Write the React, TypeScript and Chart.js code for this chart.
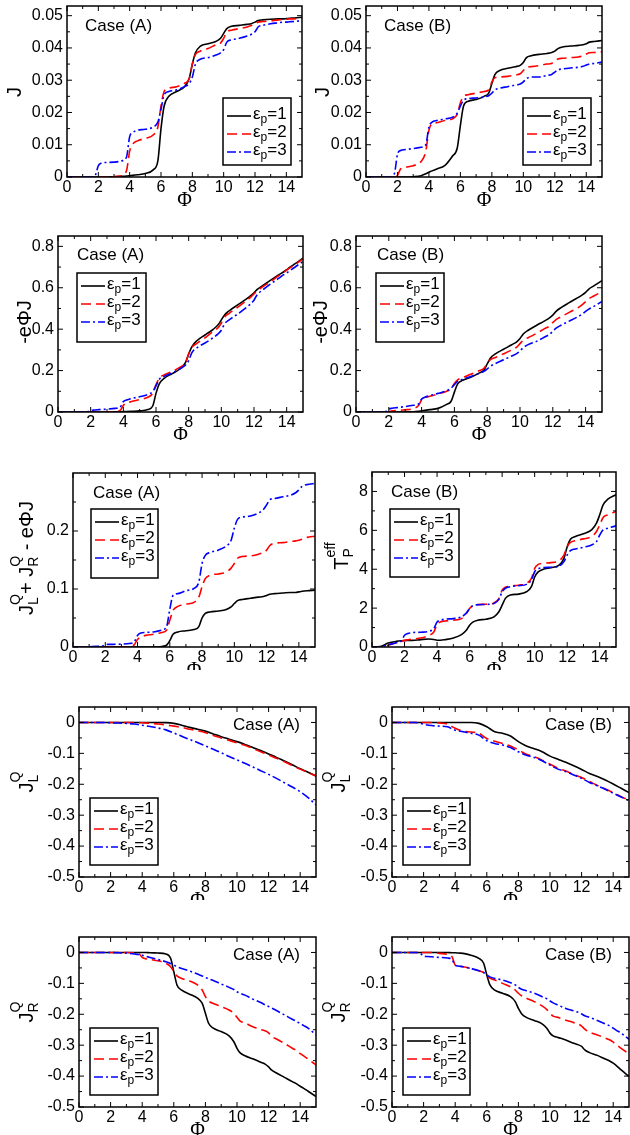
import React, { useEffect, useRef } from 'react';
import { Chart, registerables } from 'chart.js';
Chart.register(...registerables);

const SANS = '"Liberation Sans", Arial, Helvetica, sans-serif';
const SERIF = '"Liberation Serif", "Times New Roman", serif';

// ---------------- data ----------------
const phiFine = [0, 0.5, 1, 1.5, 1.8, 2, 2.2, 2.5, 3, 3.5, 3.8, 4, 4.2, 4.5, 5, 5.5, 5.8, 6, 6.2, 6.5, 7, 7.5, 7.8, 8, 8.2, 8.5, 9, 9.5, 9.8, 10, 10.2, 10.5, 11, 11.5, 11.8, 12, 12.2, 12.5, 13, 13.5, 13.8, 14, 14.2, 14.5, 15];
const phiHalf = [0, 0.5, 1, 1.5, 2, 2.5, 3, 3.5, 4, 4.5, 5, 5.5, 6, 6.5, 7, 7.5, 8, 8.5, 9, 9.5, 10, 10.5, 11, 11.5, 12, 12.5, 13, 13.5, 14, 14.5, 15];

const xTicks = [0, 2, 4, 6, 8, 10, 12, 14];
const xMinorTicks = [1, 3, 5, 7, 9, 11, 13];
const yTicksJ = [0, 0.01, 0.02, 0.03, 0.04, 0.05];
const yMinorJ = [0.005, 0.015, 0.025, 0.035, 0.045];
const yTicksPower = [0, 0.2, 0.4, 0.6, 0.8];
const yMinorPower = [0.1, 0.3, 0.5, 0.7];
const yTicksSum = [0, 0.1, 0.2];
const yMinorSum = [0.05, 0.15, 0.25];
const yTicksTeff = [0, 2, 4, 6, 8];
const yMinorTeff = [1, 3, 5, 7];
const yTicksHeat = [0, -0.1, -0.2, -0.3, -0.4, -0.5];
const yMinorHeat = [-0.05, -0.15, -0.25, -0.35, -0.45];
const legendValues = ['1', '2', '3'];

// J, case A
const jA_e1 = [0,0,0,0, 0,0,0,0, 0.0001,0.0002,0.0003,0.0004, 0.0005,0.0007,0.0011,0.0022, 0.005,0.015,0.022,0.025, 0.0265,0.028,0.0305,0.035, 0.0385,0.0405,0.0413,0.042, 0.043,0.0445,0.046,0.0467, 0.047,0.0473,0.0476,0.048, 0.0485,0.0487,0.0489,0.049, 0.049,0.0491,0.0492,0.0493, 0.0495];
const jA_e2 = [0,0,0,0, 0,0,0,0, 0.0001,0.0004,0.002,0.008, 0.0102,0.0112,0.012,0.013, 0.0155,0.022,0.0265,0.0275, 0.028,0.029,0.0305,0.035, 0.038,0.039,0.0398,0.041, 0.0415,0.043,0.045,0.0455, 0.046,0.0465,0.047,0.0475, 0.048,0.0482,0.0484,0.0487, 0.0488,0.0489,0.049,0.049, 0.0493];
const jA_e3 = [0,0,0,0, 0.0005,0.0035,0.0043,0.0045, 0.0046,0.005,0.0062,0.0125, 0.0138,0.0145,0.0148,0.0155, 0.017,0.021,0.0255,0.0265, 0.027,0.028,0.029,0.031, 0.035,0.0365,0.037,0.0378, 0.0385,0.0395,0.0418,0.0425, 0.043,0.0437,0.0443,0.045, 0.0465,0.047,0.0475,0.0478, 0.048,0.048,0.0481,0.0482, 0.0485];
// J, case B
const jB_e1 = [0,0,0,0, 0,0,0,0, 0.0001,0.0004,0.001,0.0015, 0.0019,0.0025,0.0035,0.0065, 0.009,0.016,0.022,0.0235, 0.024,0.025,0.026,0.029, 0.0318,0.033,0.0337,0.0342, 0.0346,0.0355,0.037,0.0376, 0.038,0.0383,0.0386,0.039, 0.0398,0.0403,0.0406,0.0408, 0.041,0.0413,0.0418,0.042, 0.0423];
const jB_e2 = [0,0,0,0, 0,0.0005,0.0025,0.003, 0.0035,0.0048,0.008,0.0145, 0.0165,0.0168,0.0175,0.018, 0.0195,0.023,0.025,0.0255, 0.026,0.0265,0.027,0.0295, 0.0308,0.031,0.0312,0.0316, 0.032,0.033,0.034,0.0342, 0.0345,0.035,0.0352,0.036, 0.0366,0.0368,0.037,0.0372, 0.0376,0.0381,0.0385,0.0386, 0.0388];
const jB_e3 = [0,0,0,0, 0.001,0.007,0.0082,0.0085, 0.0088,0.0092,0.01,0.0155, 0.017,0.0175,0.018,0.0185, 0.0198,0.022,0.0238,0.0243, 0.0245,0.0248,0.0252,0.026, 0.027,0.0275,0.028,0.0285, 0.0288,0.0295,0.0305,0.031, 0.031,0.0315,0.0318,0.0325, 0.0332,0.0335,0.0338,0.034, 0.0343,0.0347,0.035,0.0352, 0.0356];
// -ePhiJ, case A
const pA_e1 = [0,0,0,0, 0,0,0,0, 0.0003,0.0007,0.0011,0.0016, 0.0021,0.0032,0.0055,0.0121, 0.029,0.09,0.136,0.1625, 0.1855,0.21,0.238,0.28, 0.316,0.344,0.372,0.399, 0.421,0.445,0.469,0.49, 0.517,0.544,0.562,0.576, 0.592,0.609,0.636,0.662, 0.676,0.687,0.699,0.715, 0.743];
const pA_e2 = [0,0,0,0, 0,0,0,0, 0.0003,0.0014,0.0076,0.032, 0.0428,0.0504,0.06,0.0715, 0.09,0.132,0.164,0.179, 0.196,0.2175,0.238,0.28, 0.312,0.3315,0.358,0.39, 0.407,0.43,0.459,0.478, 0.506,0.535,0.555,0.57, 0.586,0.603,0.629,0.657, 0.673,0.685,0.696,0.711, 0.74];
const pA_e3 = [0,0,0,0, 0.0009,0.007,0.0095,0.0113, 0.0138,0.0175,0.0236,0.05, 0.058,0.065,0.074,0.085, 0.099,0.126,0.158,0.172, 0.189,0.21,0.226,0.248, 0.287,0.31,0.333,0.359, 0.377,0.395,0.426,0.446, 0.473,0.503,0.523,0.54, 0.567,0.5875,0.6175,0.645, 0.662,0.672,0.683,0.699, 0.7275];
// -ePhiJ, case B
const pB_e1 = [0,0,0,0, 0,0,0,0, 0.0003,0.0014,0.0038,0.006, 0.008,0.0113,0.0175,0.0358, 0.052,0.096,0.136,0.153, 0.168,0.1875,0.203,0.232, 0.261,0.2805,0.303,0.325, 0.339,0.355,0.377,0.395, 0.418,0.44,0.455,0.468, 0.486,0.504,0.528,0.551, 0.566,0.578,0.594,0.609, 0.6345];
const pB_e2 = [0,0,0,0, 0,0.001,0.0055,0.0075, 0.0105,0.0168,0.0304,0.058, 0.0693,0.0756,0.0875,0.099, 0.113,0.138,0.155,0.166, 0.182,0.199,0.211,0.236, 0.2526,0.2635,0.281,0.3, 0.3136,0.33,0.347,0.359, 0.3795,0.4025,0.415,0.432, 0.4465,0.46,0.481,0.502, 0.519,0.533,0.547,0.56, 0.582];
const pB_e3 = [0,0,0,0, 0.0018,0.014,0.018,0.0213, 0.0264,0.0322,0.038,0.062, 0.0714,0.0788,0.09,0.1018, 0.115,0.132,0.1476,0.158, 0.1715,0.186,0.1966,0.208, 0.2214,0.2338,0.252,0.2708, 0.2822,0.295,0.311,0.3255, 0.341,0.362,0.375,0.39, 0.405,0.419,0.439,0.459, 0.473,0.486,0.497,0.51, 0.534];
// JQL + JQR - ePhiJ, case A
const sA_e1 = [0,0,0,0, 0,0,0,0, 0,0,0,0, 0,0,0,0.001, 0.003,0.011,0.022,0.026, 0.028,0.03,0.035,0.05, 0.058,0.0605,0.062,0.0645, 0.069,0.075,0.08,0.082, 0.084,0.086,0.087,0.089, 0.091,0.092,0.093,0.094, 0.094,0.095,0.096,0.097, 0.098];
const sA_e2 = [0,0,0,0, 0,0,0,0, 0,0.001,0.004,0.013, 0.017,0.02,0.022,0.025, 0.029,0.046,0.063,0.07, 0.074,0.077,0.086,0.104, 0.118,0.124,0.126,0.129, 0.136,0.144,0.153,0.156, 0.157,0.16,0.163,0.167, 0.175,0.179,0.18,0.182, 0.183,0.184,0.186,0.189, 0.191];
const sA_e3 = [0,0,0.0005,0.001, 0.0015,0.004,0.0045,0.0046, 0.005,0.006,0.009,0.02, 0.024,0.025,0.026,0.029, 0.035,0.065,0.089,0.092, 0.097,0.101,0.112,0.144, 0.158,0.163,0.167,0.174, 0.184,0.205,0.22,0.224, 0.226,0.231,0.237,0.245, 0.254,0.256,0.259,0.262, 0.266,0.271,0.277,0.28, 0.282];
// T_P^eff, case B
const tB_e1 = [0,0.02,0.2,0.29, 0.32,0.33,0.335,0.34, 0.38,0.41,0.39,0.35, 0.35,0.38,0.46,0.64, 0.86,1.12,1.28,1.38, 1.43,1.55,1.81,2.15, 2.5,2.67,2.72,2.84, 3.1,3.6,3.85,3.99, 4.08,4.21,4.56,5.16, 5.54,5.68,5.82,6.02, 6.37,6.8,7.3,7.6, 7.83];
const tB_e2 = [0,0,0.09,0.22, 0.3,0.34,0.37,0.41, 0.46,0.6,0.77,1.17, 1.29,1.34,1.38,1.46, 1.72,1.98,2.12,2.18, 2.2,2.27,2.49,2.92, 3.07,3.13,3.18,3.27, 3.53,4.04,4.24,4.3, 4.34,4.44,4.73,5.16, 5.38,5.47,5.56,5.68, 5.94,6.28,6.65,6.8, 6.97];
const tB_e3 = [0,0,0.12,0.22, 0.31,0.6,0.69,0.74, 0.76,0.81,0.95,1.29, 1.38,1.43,1.46,1.55, 1.75,1.98,2.12,2.17, 2.19,2.24,2.45,2.84, 3.02,3.1,3.15,3.22, 3.45,3.87,4.01,4.08, 4.1,4.16,4.39,4.73, 4.96,5.04,5.13,5.25, 5.42,5.76,6.02,6.11, 6.23];
// JQ_L (half grid)
const lA_e1 = [0,0,0,0,0,0,0,0,0,0,0, -0.0005,-0.003,-0.009,-0.016,-0.022,-0.028,-0.037,-0.046,-0.054,-0.062,-0.071,-0.081,-0.091,-0.102,-0.113,-0.125,-0.137,-0.15,-0.161,-0.173];
const lA_e2 = [0,0,0,0,0,0,0,0, -0.001,-0.003,-0.005,-0.008,-0.012,-0.016,-0.022,-0.027,-0.033,-0.042,-0.05,-0.058,-0.066,-0.074,-0.084,-0.095,-0.105,-0.116,-0.127,-0.139,-0.151,-0.162,-0.173];
const lA_e3 = [0,0,0,0, -0.001,-0.002,-0.003,-0.005,-0.009,-0.013,-0.018,-0.024,-0.034,-0.045,-0.055,-0.065,-0.076,-0.087,-0.098,-0.11,-0.121,-0.132,-0.144,-0.156,-0.168,-0.181,-0.195,-0.209,-0.224,-0.243,-0.267];
const lB_e1 = [0,0,0,0,0,0,0,0,0,0,0, -0.003,-0.014,-0.03,-0.035,-0.044,-0.062,-0.076,-0.085,-0.095,-0.109,-0.119,-0.129,-0.14,-0.152,-0.165,-0.175,-0.186,-0.199,-0.213,-0.227];
const lB_e2 = [0,0,0,0,0,0, -0.002,-0.005,-0.019,-0.028,-0.031,-0.035,-0.052,-0.061,-0.068,-0.076,-0.089,-0.103,-0.111,-0.122,-0.135,-0.148,-0.157,-0.168,-0.178,-0.191,-0.204,-0.215,-0.227,-0.24,-0.251];
const lB_e3 = [0,0,0,0, -0.006,-0.01,-0.012,-0.014,-0.025,-0.03,-0.035,-0.041,-0.059,-0.068,-0.073,-0.081,-0.095,-0.106,-0.113,-0.124,-0.138,-0.151,-0.159,-0.17,-0.181,-0.194,-0.205,-0.216,-0.229,-0.241,-0.253];
// JQ_R (fine grid)
const rA_e1 = [0,0,0,0, 0,0,0,0, 0,0,0,0, 0,-0.001,-0.002,-0.005, -0.019,-0.062,-0.105,-0.122, -0.135,-0.148,-0.165,-0.197, -0.229,-0.245,-0.256,-0.27, -0.289,-0.31,-0.325,-0.334, -0.344,-0.355,-0.362,-0.37, -0.381,-0.39,-0.404,-0.418, -0.426,-0.433,-0.439,-0.449, -0.466];
const rA_e2 = [0,0,0,0, 0,0,0,0, 0,-0.001,-0.004,-0.016, -0.02,-0.023,-0.027,-0.035, -0.046,-0.062,-0.076,-0.084, -0.092,-0.105,-0.122,-0.143, -0.157,-0.165,-0.175,-0.186, -0.197,-0.21,-0.222,-0.228, -0.24,-0.249,-0.254,-0.26, -0.272,-0.28,-0.294,-0.31, -0.318,-0.327,-0.334,-0.345, -0.364];
const rA_e3 = [0,0,0,0, 0,0,-0.0005,-0.001, -0.002,-0.005,-0.007,-0.009, -0.012,-0.016,-0.023,-0.03, -0.036,-0.041,-0.046,-0.052, -0.06,-0.07,-0.076,-0.081, -0.085,-0.091,-0.102,-0.113, -0.12,-0.127,-0.132,-0.138, -0.151,-0.162,-0.17,-0.175, -0.18,-0.188,-0.202,-0.216, -0.224,-0.23,-0.236,-0.245, -0.267];
const rB_e1 = [0,0,0,0, 0,0,0,0, 0,0,-0.001,-0.001, -0.002,-0.003,-0.009,-0.019, -0.035,-0.073,-0.105,-0.122, -0.132,-0.143,-0.159,-0.181, -0.198,-0.21,-0.22,-0.231, -0.245,-0.261,-0.27,-0.275, -0.283,-0.294,-0.299,-0.304, -0.315,-0.324,-0.333,-0.345, -0.352,-0.358,-0.366,-0.38, -0.401];
const rB_e2 = [0,0,0,0, 0,0,0,0, -0.003,-0.006,-0.014,-0.041, -0.044,-0.046,-0.052,-0.059, -0.065,-0.073,-0.083,-0.089, -0.1,-0.111,-0.122,-0.132, -0.14,-0.148,-0.159,-0.173, -0.185,-0.197,-0.206,-0.21, -0.219,-0.227,-0.232,-0.238, -0.248,-0.258,-0.267,-0.277, -0.283,-0.29,-0.298,-0.31, -0.328];
const rB_e3 = [0,0,0,0, -0.003,-0.012,-0.013,-0.014, -0.016,-0.018,-0.023,-0.041, -0.044,-0.046,-0.052,-0.059, -0.065,-0.073,-0.079,-0.084, -0.089,-0.098,-0.105,-0.113, -0.119,-0.124,-0.132,-0.143, -0.15,-0.157,-0.163,-0.17, -0.181,-0.189,-0.194,-0.199, -0.205,-0.21,-0.22,-0.231, -0.238,-0.245,-0.252,-0.261, -0.281];

// ---------------- styles / layout ----------------
const COLORS = ['#000000', '#ff0000', '#0000ff'];
const DASHES: number[][] = [[], [10, 5], [9, 3, 2, 3]];

type Seg = { t: string; sup?: string; sub?: string };
type PanelDef = {
  key: string;
  cell: number[];
  area: number[];
  x: number[];
  series: number[][];
  yMin: number;
  yMax: number;
  yTicks: number[];
  yMinor: number[];
  title: Seg[];
  titleAt: number[];
  caseText: string;
  caseAlign: 'left' | 'right';
  caseAt: number[];
  legend: number[];
  legendRow: number;
};

const TITLE_J: Seg[] = [{ t: 'J' }];
const TITLE_P: Seg[] = [{ t: '-eΦJ' }];
const TITLE_S: Seg[] = [{ t: 'J', sup: 'Q', sub: 'L' }, { t: '+ ' }, { t: 'J', sup: 'Q', sub: 'R' }, { t: ' - eΦJ' }];
const TITLE_T: Seg[] = [{ t: 'T', sup: 'eff', sub: 'P' }];
const TITLE_L: Seg[] = [{ t: 'J', sup: 'Q', sub: 'L' }];
const TITLE_R: Seg[] = [{ t: 'J', sup: 'Q', sub: 'R' }];

const CA = [0, 320];
const CB = [312, 318];
const ROWS = [[0, 215], [215, 225], [440, 230], [670, 230], [900, 235]];
const cell = (c: number[], r: number) => [c[0], ROWS[r][0], c[1], ROWS[r][1]];

const PANELS: PanelDef[] = [
  { key: 'a1', cell: cell(CA, 0), area: [67, 6, 302, 177], x: phiFine, series: [jA_e1, jA_e2, jA_e3], yMin: 0, yMax: 0.053, yTicks: yTicksJ, yMinor: yMinorJ, title: TITLE_J, titleAt: [21, 92], caseText: 'Case (A)', caseAlign: 'left', caseAt: [85, 26], legend: [223, 98, 291, 165], legendRow: 18 },
  { key: 'b1', cell: cell(CB, 0), area: [366, 6, 602, 177], x: phiFine, series: [jB_e1, jB_e2, jB_e3], yMin: 0, yMax: 0.053, yTicks: yTicksJ, yMinor: yMinorJ, title: TITLE_J, titleAt: [329, 92], caseText: 'Case (B)', caseAlign: 'left', caseAt: [384, 26], legend: [523, 98, 591, 165], legendRow: 18 },
  { key: 'a2', cell: cell(CA, 1), area: [58, 236, 303, 412], x: phiFine, series: [pA_e1, pA_e2, pA_e3], yMin: 0, yMax: 0.85, yTicks: yTicksPower, yMinor: yMinorPower, title: TITLE_P, titleAt: [31, 322], caseText: 'Case (A)', caseAlign: 'left', caseAt: [77, 255], legend: [77, 273, 146, 342], legendRow: 13 },
  { key: 'b2', cell: cell(CB, 1), area: [356, 236, 602, 412], x: phiFine, series: [pB_e1, pB_e2, pB_e3], yMin: 0, yMax: 0.85, yTicks: yTicksPower, yMinor: yMinorPower, title: TITLE_P, titleAt: [327, 322], caseText: 'Case (B)', caseAlign: 'left', caseAt: [377, 255], legend: [376, 273, 444, 342], legendRow: 13 },
  { key: 'a3', cell: cell(CA, 2), area: [73, 473, 315, 647], x: phiFine, series: [sA_e1, sA_e2, sA_e3], yMin: 0, yMax: 0.3, yTicks: yTicksSum, yMinor: yMinorSum, title: TITLE_S, titleAt: [33, 558], caseText: 'Case (A)', caseAlign: 'left', caseAt: [93, 493], legend: [91, 509, 158, 578], legendRow: 13 },
  { key: 'b3', cell: cell(CB, 2), area: [372, 472, 616, 647], x: phiFine, series: [tB_e1, tB_e2, tB_e3], yMin: 0, yMax: 9, yTicks: yTicksTeff, yMinor: yMinorTeff, title: TITLE_T, titleAt: [348, 556], caseText: 'Case (B)', caseAlign: 'left', caseAt: [391, 492], legend: [390, 509, 459, 577], legendRow: 13 },
  { key: 'a4', cell: cell(CA, 3), area: [79, 707, 316, 877], x: phiHalf, series: [lA_e1, lA_e2, lA_e3], yMin: -0.5, yMax: 0.05, yTicks: yTicksHeat, yMinor: yMinorHeat, title: TITLE_L, titleAt: [33, 782], caseText: 'Case (A)', caseAlign: 'right', caseAt: [300, 725], legend: [90, 798, 158, 865], legendRow: 13 },
  { key: 'b4', cell: cell(CB, 3), area: [392, 707, 629, 877], x: phiHalf, series: [lB_e1, lB_e2, lB_e3], yMin: -0.5, yMax: 0.05, yTicks: yTicksHeat, yMinor: yMinorHeat, title: TITLE_L, titleAt: [345, 782], caseText: 'Case (B)', caseAlign: 'right', caseAt: [612, 725], legend: [403, 798, 470, 865], legendRow: 13 },
  { key: 'a5', cell: cell(CA, 4), area: [79, 937, 316, 1107], x: phiFine, series: [rA_e1, rA_e2, rA_e3], yMin: -0.5, yMax: 0.05, yTicks: yTicksHeat, yMinor: yMinorHeat, title: TITLE_R, titleAt: [33, 1012], caseText: 'Case (A)', caseAlign: 'right', caseAt: [300, 955], legend: [90, 1028, 158, 1095], legendRow: 13 },
  { key: 'b5', cell: cell(CB, 4), area: [392, 937, 629, 1107], x: phiFine, series: [rB_e1, rB_e2, rB_e3], yMin: -0.5, yMax: 0.05, yTicks: yTicksHeat, yMinor: yMinorHeat, title: TITLE_R, titleAt: [345, 1012], caseText: 'Case (B)', caseAlign: 'right', caseAt: [612, 955], legend: [403, 1028, 470, 1095], legendRow: 13 },
];

function drawVerticalTitle(ctx: CanvasRenderingContext2D, segs: Seg[], bx: number, cy: number) {
  const big = `20px ${SANS}`;
  const small = `14px ${SANS}`;
  ctx.save();
  ctx.translate(bx, cy);
  ctx.rotate(-Math.PI / 2);
  ctx.textAlign = 'left';
  ctx.textBaseline = 'alphabetic';
  ctx.fillStyle = '#000';
  const widths = segs.map((s) => {
    ctx.font = big;
    const w = ctx.measureText(s.t).width;
    ctx.font = small;
    const w2 = Math.max(s.sup ? ctx.measureText(s.sup).width : 0, s.sub ? ctx.measureText(s.sub).width : 0);
    return [w, w2];
  });
  const total = widths.reduce((a, w) => a + w[0] + w[1], 0);
  let x = -total / 2;
  segs.forEach((s, i) => {
    ctx.font = big;
    ctx.fillText(s.t, x, 0);
    x += widths[i][0];
    ctx.font = small;
    if (s.sup) ctx.fillText(s.sup, x, -13);
    if (s.sub) ctx.fillText(s.sub, x, 5);
    x += widths[i][1];
  });
  ctx.restore();
}

function makeDecor(p: PanelDef) {
  return {
    id: 'decor_' + p.key,
    afterDatasetsDraw(chart: any) {
      const ctx: CanvasRenderingContext2D = chart.ctx;
      const { left, right, top, bottom } = chart.chartArea;
      const xs = chart.scales.x;
      const ys = chart.scales.y;
      const cx = p.cell[0];
      const cy = p.cell[1];
      ctx.save();
      ctx.setLineDash([]);
      ctx.strokeStyle = '#000';
      ctx.lineWidth = 1;
      const seg = (x1: number, y1: number, x2: number, y2: number) => {
        ctx.beginPath();
        ctx.moveTo(x1, y1);
        ctx.lineTo(x2, y2);
        ctx.stroke();
      };
      xTicks.forEach((v) => { const px = xs.getPixelForValue(v); seg(px, bottom, px, bottom - 5); seg(px, top, px, top + 5); });
      xMinorTicks.forEach((v) => { const px = xs.getPixelForValue(v); seg(px, bottom, px, bottom - 3); seg(px, top, px, top + 3); });
      p.yTicks.forEach((v) => { const py = ys.getPixelForValue(v); seg(left, py, left + 5, py); seg(right, py, right - 5, py); });
      p.yMinor.forEach((v) => { const py = ys.getPixelForValue(v); seg(left, py, left + 3, py); seg(right, py, right - 3, py); });
      ctx.lineWidth = 1.5;
      ctx.strokeRect(left, top, right - left, bottom - top);

      // case label
      ctx.fillStyle = '#000';
      ctx.font = `17px ${SANS}`;
      ctx.textAlign = p.caseAlign;
      ctx.textBaseline = 'middle';
      ctx.fillText(p.caseText, p.caseAt[0] - cx, p.caseAt[1] - cy);

      // legend
      const lx1 = p.legend[0] - cx, ly1 = p.legend[1] - cy, lx2 = p.legend[2] - cx, ly2 = p.legend[3] - cy;
      ctx.fillStyle = '#fff';
      ctx.fillRect(lx1, ly1, lx2 - lx1, ly2 - ly1);
      ctx.strokeStyle = '#000';
      ctx.lineWidth = 1.5;
      ctx.strokeRect(lx1, ly1, lx2 - lx1, ly2 - ly1);
      for (let i = 0; i < 3; i++) {
        const y = ly1 + p.legendRow + i * 18;
        ctx.beginPath();
        ctx.setLineDash(DASHES[i]);
        ctx.strokeStyle = COLORS[i];
        ctx.lineWidth = 1.6;
        ctx.moveTo(lx1 + 4, y);
        ctx.lineTo(lx1 + 28, y);
        ctx.stroke();
        ctx.setLineDash([]);
        ctx.fillStyle = '#000';
        ctx.textAlign = 'left';
        ctx.textBaseline = 'alphabetic';
        let tx = lx1 + 30;
        ctx.font = `17px ${SANS}`;
        ctx.fillText('ε', tx, y + 3);
        tx += ctx.measureText('ε').width;
        ctx.font = `12px ${SANS}`;
        ctx.fillText('p', tx, y + 7);
        tx += ctx.measureText('p').width;
        ctx.font = `17px ${SANS}`;
        ctx.fillText('=' + legendValues[i], tx, y + 3);
      }

      // x title
      ctx.fillStyle = '#000';
      ctx.font = `20px ${SERIF}`;
      ctx.textAlign = 'center';
      ctx.textBaseline = 'middle';
      ctx.fillText('Φ', (left + right) / 2, bottom + 24);

      // y title
      drawVerticalTitle(ctx, p.title, p.titleAt[0] - cx, p.titleAt[1] - cy);
      ctx.restore();
    },
  };
}

function makeChart(canvas: HTMLCanvasElement, p: PanelDef) {
  const [cx, cy, cw, ch] = p.cell;
  const [l, t, r, b] = p.area;
  const datasets = p.series.map((vals, i) => ({
    label: 'εp=' + legendValues[i],
    data: p.x.map((x, j) => ({ x, y: vals[j] })),
    borderColor: COLORS[i],
    backgroundColor: COLORS[i],
    borderWidth: 1.6,
    borderDash: DASHES[i],
    pointRadius: 0,
    fill: false,
    cubicInterpolationMode: 'monotone',
    order: 3 - i,
  }));
  const tickFont = { family: SANS, size: 16 };
  const zeroPad = (s: any) => { s.paddingLeft = 0; s.paddingRight = 0; s.paddingTop = 0; s.paddingBottom = 0; };
  return new Chart(canvas, {
    type: 'line',
    data: { datasets } as any,
    options: {
      responsive: false,
      animation: false,
      events: [],
      layout: { padding: { top: t - cy, right: cx + cw - r, left: 0, bottom: 0 } },
      plugins: { legend: { display: false }, tooltip: { enabled: false }, title: { display: false } },
      scales: {
        x: {
          type: 'linear', min: 0, max: 15,
          grid: { display: false, drawTicks: false },
          border: { display: false },
          ticks: { autoSkip: false, maxRotation: 0, minRotation: 0, padding: 1, color: '#000', font: tickFont, callback: (v: any) => String(v) },
          afterBuildTicks: (s: any) => { s.ticks = xTicks.map((v) => ({ value: v })); },
          afterFit: (s: any) => { s.height = cy + ch - b; zeroPad(s); },
        },
        y: {
          type: 'linear', min: p.yMin, max: p.yMax,
          grid: { display: false, drawTicks: false },
          border: { display: false },
          ticks: { autoSkip: false, padding: 4, color: '#000', font: tickFont, callback: (v: any) => String(v) },
          afterBuildTicks: (s: any) => { s.ticks = p.yTicks.map((v) => ({ value: v })); },
          afterFit: (s: any) => { s.width = l - cx; zeroPad(s); },
        },
      },
    } as any,
    plugins: [makeDecor(p)],
  });
}

export default function App() {
  const refs = useRef<(HTMLCanvasElement | null)[]>([]);
  useEffect(() => {
    const charts = PANELS.map((p, i) => makeChart(refs.current[i] as HTMLCanvasElement, p));
    return () => charts.forEach((c) => c.destroy());
  }, []);
  return (
    <div style={{ position: 'absolute', left: 0, top: 0, width: 630, height: 1135, background: '#fff', overflow: 'hidden' }}>
      {PANELS.map((p, i) => (
        <canvas
          key={p.key}
          ref={(el) => { refs.current[i] = el; }}
          width={p.cell[2]}
          height={p.cell[3]}
          style={{ position: 'absolute', left: p.cell[0], top: p.cell[1], width: p.cell[2], height: p.cell[3] }}
        />
      ))}
    </div>
  );
}
